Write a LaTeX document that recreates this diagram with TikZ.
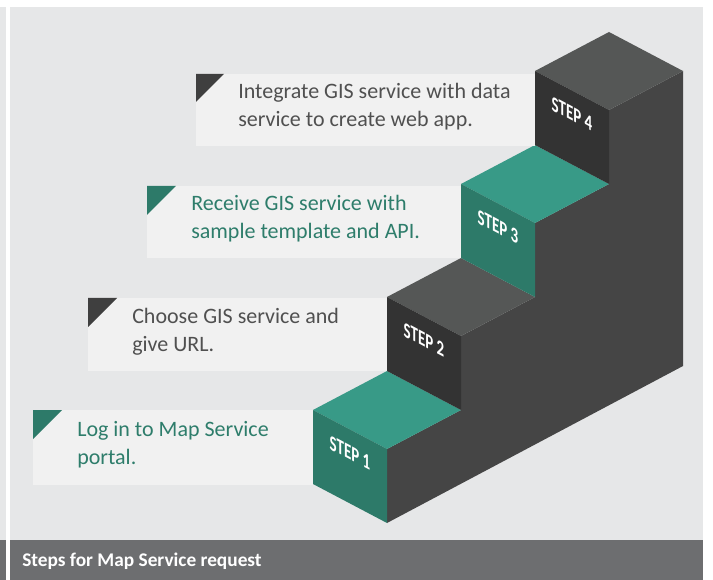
\documentclass[tikz,border=0pt]{standalone}
\usepackage{fontspec}
\setmainfont{Carlito}
\usepackage{tikz}
\usetikzlibrary{positioning, calc}
\definecolor{panelgray}{HTML}{E6E7E8}
\definecolor{capgray}{HTML}{6D6E70}
\definecolor{boxgray}{HTML}{F1F1F1}
\definecolor{tealtop}{HTML}{389A87}
\definecolor{tealfront}{HTML}{2D7A69}
\definecolor{darktop}{HTML}{555756}
\definecolor{darkfront}{HTML}{333333}
\definecolor{sidegray}{HTML}{454545}
\definecolor{tealtext}{HTML}{2E7D6B}
\definecolor{graytext}{HTML}{505050}
\definecolor{marktri}{HTML}{3F3F3F}
\tikzset{
	stairstep/.pic={
			\fill[#1top] (0,0) -- (74,-39) -- (148,0) -- (74,39) -- cycle;
			\fill[#1front] (0,0) -- (74,39) -- (74,113) -- (0,74) -- cycle;
		}
}
\tikzset{
	steplabel/.style={yslant=-0.53, xscale=0.9, yscale=1.3, font=\bfseries\fontsize{12.5}{12.5}\selectfont, text=white, inner sep=0pt}
}
\tikzset{
	notetext/.style={anchor=west, align=left, inner sep=0pt, font=\fontsize{16.5}{21}\selectfont}
}

\begin{document}
\begin{tikzpicture}[x=0.75pt, y=-0.75pt]

			\useasboundingbox (0,0) rectangle (713,580);

			% panels
			\fill[panelgray] (0,7) rectangle (6,540);
			\fill[capgray] (0,540) rectangle (6,580);
			\fill[panelgray] (10,7) rectangle (703,540);
			\fill[capgray] (10,540) rectangle (703,580);
			\node[inner sep=0pt, anchor=west, text=white, font=\bfseries\fontsize{14.5}{14.5}\selectfont] (caption) at (22,561) {Steps for Map Service request};

			\begin{scope}

				\coordinate (sA) at (313,410);
				\coordinate (sB) at (387,297);
				\coordinate (sC) at (461,184);
				\coordinate (sD) at (535,71);

				\fill[sidegray] (387,523) -- (387,449) -- (461,410) -- (461,336) -- (535,297) -- (535,223)
					-- (609,184) -- (609,110) -- (683,71) -- (683,366) -- cycle;

				\pic at (sA) {stairstep={teal}};
				\pic at (sB) {stairstep={dark}};
				\pic at (sC) {stairstep={teal}};
				\pic at (sD) {stairstep={dark}};

				\begin{scope}[shift={(sA)}]
					\node[steplabel] (n1) at (37,43) {STEP 1};
				\end{scope}
				\begin{scope}[shift={(sB)}]
					\node[steplabel] (n2) at (37,43) {STEP 2};
				\end{scope}
				\begin{scope}[shift={(sC)}]
					\node[steplabel] (n3) at (37,43) {STEP 3};
				\end{scope}
				\begin{scope}[shift={(sD)}]
					\node[steplabel] (n4) at (37,43) {STEP 4};
				\end{scope}

			\end{scope}

			\begin{scope}

				\fill[boxgray] (33,410) rectangle (313,485);
				\fill[tealfront] (33,410) -- (62,410) -- (33,439) -- cycle;
				\node[notetext, text=tealtext] (t1) at (77,444.5) {Log in to Map Service\\portal.};

				\fill[boxgray] (88,298) rectangle (387,371);
				\fill[marktri] (88,298) -- (117,298) -- (88,327) -- cycle;
				\node[notetext, text=graytext] (t2) at (132,331.5) {Choose GIS service and\\give URL.};

				\fill[boxgray] (147,186) rectangle (461,258);
				\fill[tealfront] (147,186) -- (176,186) -- (147,215) -- cycle;
				\node[notetext, text=tealtext] (t3) at (191,219) {Receive GIS service with\\sample template and API.};

				\fill[boxgray] (196,74) rectangle (535,146);
				\fill[marktri] (196,74) -- (224,74) -- (196,102) -- cycle;
				\node[notetext, text=graytext] (t4) at (238,107) {Integrate GIS service with data\\service to create web app.};

			\end{scope}

		\end{tikzpicture}
\end{document}
